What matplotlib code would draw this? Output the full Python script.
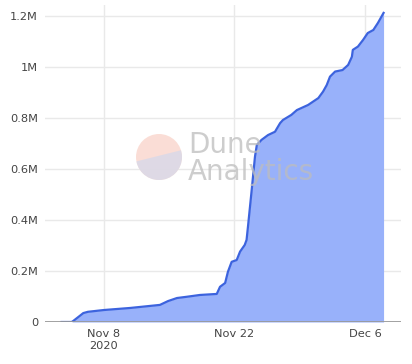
import numpy as np
import pandas as pd
import matplotlib
matplotlib.use("Agg")
import matplotlib.pyplot as plt
import matplotlib.dates as mdates
from matplotlib.patches import Circle, Polygon
from matplotlib.ticker import FuncFormatter

# days after Nov 8 2020 and cumulative total (millions)
day_offset = [-4.55, -3.47, -3.3, -2.6, -2.22, -1.72, 0.0, 2.8, 6.0, 6.87, 7.83, 8.9,
              10.3, 12.1, 12.45, 13.0, 13.3, 13.7, 14.24, 14.6, 15.1, 15.3, 15.45,
              15.85, 16.2, 16.4, 16.9, 17.6, 18.35, 18.9, 19.2, 20.1, 20.7, 21.9,
              23.0, 23.5, 23.9, 24.25, 24.8, 25.6, 26.2, 26.6, 26.7, 27.25, 27.8,
              28.3, 28.9, 29.4, 30.0]
total_m = [0.0, 0.0, 0.004, 0.024, 0.035, 0.040, 0.047, 0.055, 0.067, 0.082, 0.094,
           0.099, 0.106, 0.110, 0.138, 0.153, 0.197, 0.236, 0.243, 0.276, 0.302,
           0.322, 0.374, 0.518, 0.648, 0.694, 0.714, 0.733, 0.746, 0.780, 0.792,
           0.812, 0.831, 0.851, 0.878, 0.903, 0.929, 0.962, 0.982, 0.988, 1.008,
           1.040, 1.067, 1.080, 1.106, 1.133, 1.145, 1.173, 1.212]
y_ticks = [0, 0.2, 0.4, 0.6, 0.8, 1.0, 1.2]
x_ticks = ["2020-11-08", "2020-11-22", "2020-12-06"]
x_labels = ["Nov 8\n2020", "Nov 22", "Dec 6"]

base = pd.Timestamp("2020-11-08")
dates = [base + pd.Timedelta(days=d) for d in day_offset]
values = np.array(total_m) * 1e6

fig = plt.figure(figsize=(4.12, 3.64), dpi=100)
ax = fig.add_axes([45 / 412, 1 - 322 / 364, 356 / 412, 317 / 364])

ax.fill_between(dates, values, color="#98b1fa", lw=0, zorder=2)
ax.plot(dates, values, color="#3c63de", lw=1.6, zorder=3)

ax.set_xlim(base - pd.Timedelta(days=6.33), base + pd.Timedelta(days=31.87))
ax.set_ylim(0, 1.243e6)

ax.set_yticks([v * 1e6 for v in y_ticks])
ax.yaxis.set_major_formatter(FuncFormatter(
    lambda v, p: "0" if v == 0 else ("%gM" % (v / 1e6))))
ax.set_xticks([pd.Timestamp(t) for t in x_ticks])
ax.set_xticklabels(x_labels)

ax.grid(True, color="#e9e9e9", lw=1, zorder=0)
ax.set_axisbelow(True)
ax.axhline(0, color="#999999", lw=2, zorder=4)
for s in ax.spines.values():
    s.set_visible(False)
ax.tick_params(length=0, labelsize=8.2, labelcolor="#444444")
ax.tick_params(axis="y", pad=5)
ax.tick_params(axis="x", pad=5)

# watermark
cx, cy, r = 159 / 412, 1 - 157 / 364, 23
circ = Circle((159, 364 - 157), r, transform=None, facecolor="#fad8cf",
              edgecolor="none", alpha=0.85, zorder=5)
fig.patches.append(circ)
low = Polygon([(130, 364 - 163), (190, 364 - 148), (190, 364 - 190), (130, 364 - 190)],
              closed=True, transform=None, facecolor="#d9d9e8", edgecolor="none",
              alpha=0.85, zorder=6)
low.set_clip_path(circ)
fig.patches.append(low)
fig.text(188 / 412, 1 - 153 / 364, "Dune", fontsize=20, color="#bdbdbd",
         alpha=0.75, ha="left", va="baseline", zorder=7)
fig.text(188 / 412, 1 - 180 / 364, "Analytics", fontsize=20, color="#bdbdbd",
         alpha=0.75, ha="left", va="baseline", zorder=7)

fig.savefig("out.png", dpi=100)
